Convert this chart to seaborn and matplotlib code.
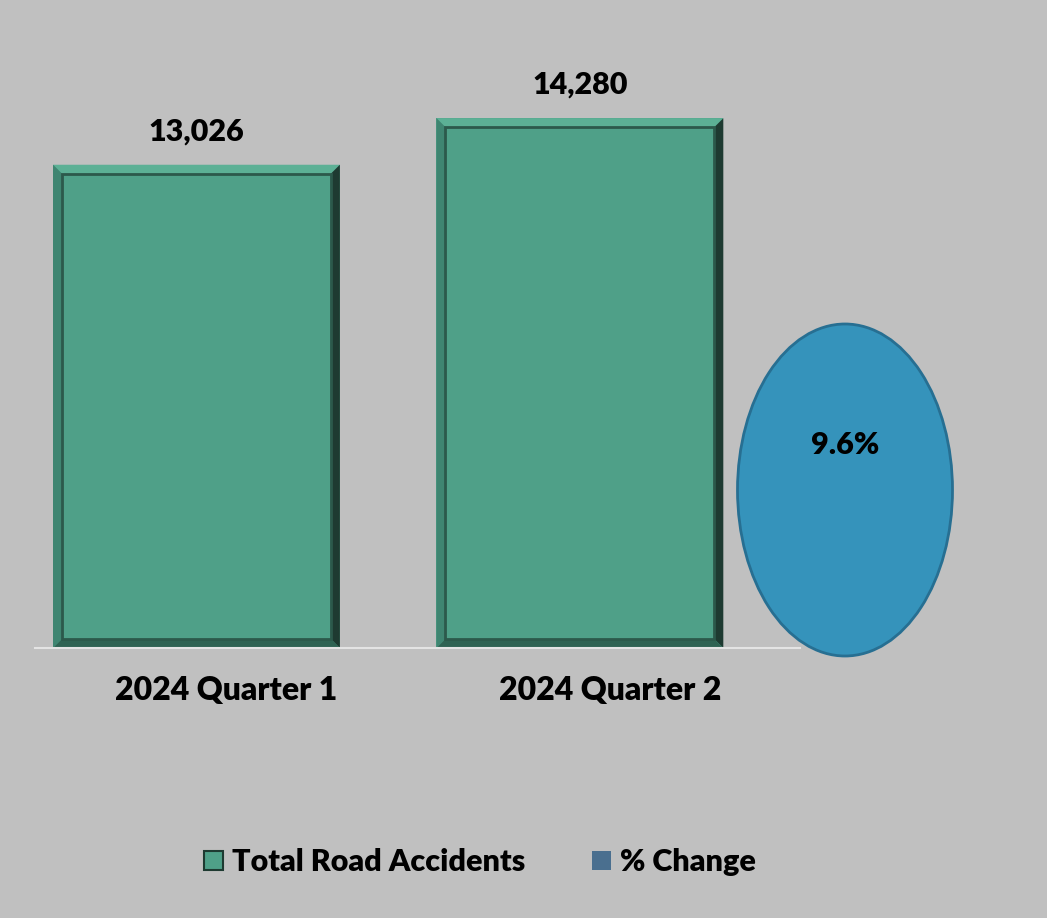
import matplotlib
matplotlib.use('Agg')
import matplotlib.pyplot as plt
import seaborn as sns
from matplotlib.patches import Ellipse, Polygon, Rectangle, Patch
from matplotlib.transforms import ScaledTranslation

categories = ['2024 Quarter 1', '2024 Quarter 2']
accidents = [13026, 14280]
pct_change = 9.6
series_names = ['Total Road Accidents', '% Change']

W, H = 1047, 918
BG = '#c0c0c0'
GREEN = '#4fa088'

sns.set_style('white')
plt.rcParams['font.family'] = ['Lato', 'DejaVu Sans']
plt.rcParams['font.weight'] = 'heavy'
plt.rcParams['text.color'] = 'black'
plt.rcParams['xtick.color'] = 'black'

fig = plt.figure(figsize=(W / 100, H / 100), dpi=100, facecolor=BG)
ax = fig.add_axes([35 / W, 1 - 648 / H, 765 / W, 618 / H])
ax.set_facecolor(BG)
sns.barplot(x=categories, y=accidents, color=GREEN, saturation=1, width=0.748,
            edgecolor='none', ax=ax)
ax.set_xlim(-0.421, 1.574)
ax.set_ylim(0, 16658)

# bevel look on the bars
px_x = (1.574 + 0.421) / 765
px_y = 16658 / 618
dx, dy = 9 * px_x, 9 * px_y
for p in ax.patches:
    x0, y0 = p.get_x(), p.get_y()
    x1, y1 = x0 + p.get_width(), y0 + p.get_height()
    ix0, iy0, ix1, iy1 = x0 + dx, y0 + dy, x1 - dx, y1 - dy
    ax.add_patch(Polygon([(x0, y1), (x1, y1), (ix1, iy1), (ix0, iy1)], facecolor='#5cb095', lw=0))
    ax.add_patch(Polygon([(x0, y0), (x0, y1), (ix0, iy1), (ix0, iy0)], facecolor='#3f8571', lw=0))
    ax.add_patch(Polygon([(x1, y0), (x1, y1), (ix1, iy1), (ix1, iy0)], facecolor='#1e3a31', lw=0))
    ax.add_patch(Polygon([(x0, y0), (x1, y0), (ix1, iy0), (ix0, iy0)], facecolor='#2f6353', lw=0))
    ax.add_patch(Rectangle((ix0, iy0), ix1 - ix0, iy1 - iy0, facecolor='none',
                           edgecolor='#2c594b', lw=2))

ax.bar_label(ax.containers[0], labels=[f'{v:,}' for v in accidents], padding=14,
             fontsize=22, fontweight='heavy', color='black')

for s in ['top', 'left', 'right']:
    ax.spines[s].set_visible(False)
ax.spines['bottom'].set_color('#e4e4e4')
ax.spines['bottom'].set_linewidth(1.5)
ax.set_yticks([])
ax.set_xlabel('')
ax.tick_params(axis='x', length=0, pad=20, labelsize=23, labelcolor='black')
for lab in ax.get_xticklabels():
    lab.set_fontweight('heavy')
    lab.set_transform(lab.get_transform() + ScaledTranslation(0.3, 0, fig.dpi_scale_trans))

# % change bubble
fig.add_artist(Ellipse((845 / W, 1 - 490 / H), 215 / W, 332 / H, transform=fig.transFigure,
                       facecolor='#3593bb', edgecolor='#276f92', lw=2))
fig.text(845 / W, 1 - 445 / H, f'{pct_change}%', ha='center', va='center',
         fontsize=22, fontweight='heavy', color='black')

handles = [Patch(facecolor=GREEN, edgecolor='#1e3a31', lw=1.5),
           Patch(facecolor='#4a6f8f', edgecolor='none')]
fig.legend(handles, series_names, loc='center', bbox_to_anchor=(480 / W, 1 - 862 / H),
           ncol=2, frameon=False, prop={'size': 22, 'weight': 'heavy'},
           handlelength=0.6, handleheight=0.6, handletextpad=0.3, columnspacing=2.2)

fig.savefig('out.png', dpi=100, facecolor=BG)
